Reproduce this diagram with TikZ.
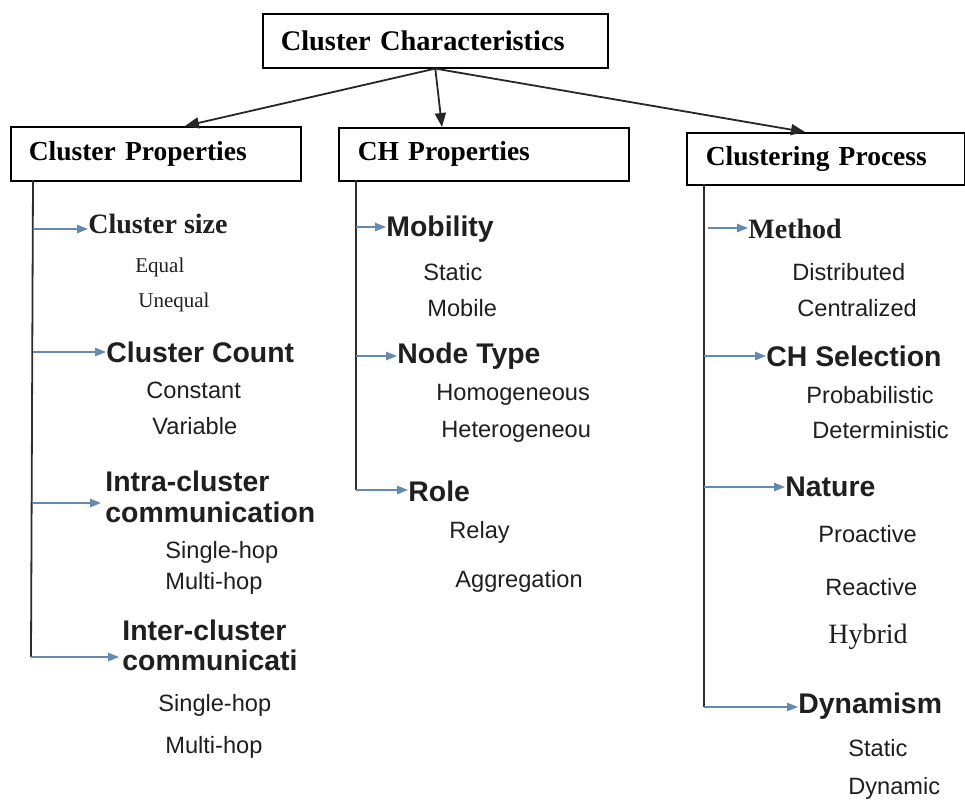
\documentclass[tikz,border=0pt]{standalone}
\usepackage{fontspec}
\setmainfont{Liberation Serif}
\setsansfont{Liberation Sans}
\usetikzlibrary{arrows.meta,calc}
\definecolor{brc}{RGB}{100,138,175}
\definecolor{barc}{RGB}{45,45,45}
\tikzset{
 box/.style={draw=black,line width=0.8pt,rectangle,anchor=north west,align=left,inner xsep=9pt,inner ysep=0pt,font=\fontsize{13.75pt}{16pt}\selectfont\bfseries},
 topar/.style={draw=black!85,line width=0.9pt,-{Triangle[length=7pt,width=5.5pt]}},
 bar/.style={draw=barc,line width=0.9pt},
 br/.style={draw=brc,line width=0.75pt,-{Triangle[length=5.5pt,width=4.2pt]}},
 txt/.style={anchor=west,inner sep=0pt,text=black!88},
 hsans/.style={txt,font=\fontsize{14.2pt}{15.5pt}\selectfont\bfseries\sffamily,align=left},
 hser/.style={txt,font=\fontsize{14pt}{16pt}\selectfont\bfseries},
 isans/.style={txt,font=\fontsize{11.8pt}{14pt}\selectfont\sffamily},
 iser/.style={txt,font=\fontsize{10.5pt}{12pt}\selectfont},
 iserbig/.style={txt,font=\fontsize{14pt}{16pt}\selectfont},
}
\begin{document}
\begin{tikzpicture}[x=0.5pt,y=-0.5pt]
\useasboundingbox (0,0) rectangle (965,800);
\fill[white] (0,0) rectangle (965,800);
% boxes
\node[box,text width=154.5pt,minimum height=27pt,font=\fontsize{14.2pt}{16pt}\selectfont\bfseries] (title) at (262,13) {Cluster Characteristics};
\node[box,text width=127pt,minimum height=27pt] (cp) at (10,126) {Cluster Properties};
\node[box,text width=126pt,inner xsep=9.5pt,minimum height=26.5pt] (chp) at (338,127) {CH Properties};
\node[box,text width=120pt,inner xsep=9.5pt,minimum height=26pt] (clp) at (686,132) {Clustering Process};
% top arrows
\draw[topar] (title.south) -- ($(cp.north west)+(175,0)$);
\draw[topar] (title.south) -- ($(chp.north west)+(104,0)$);
\draw[topar] (title.south) -- ($(clp.north west)+(119,0)$);
% bars
\coordinate (lb0) at (33,180);
\coordinate (lb1) at (33,229);
\coordinate (lb2) at (33,352);
\coordinate (lb3) at (33,503);
\coordinate (lb4) at (31,657);
\coordinate (mb0) at (356,180);
\coordinate (mb1) at (356,227);
\coordinate (mb2) at (356,356);
\coordinate (mb3) at (356,490);
\coordinate (rb0) at (704,184);
\coordinate (rb1) at (708,228);
\coordinate (rb2) at (704,356);
\coordinate (rb3) at (704,487);
\coordinate (rb4) at (704,707);
\draw[bar] (lb0) -- (lb4);
\draw[bar] (mb0) -- (mb3);
\draw[bar] (rb0) -- (rb4);
% left column
\node[hser] (cs) at (88,224) {Cluster size};
\node[iser] (eq) at (135,267) {Equal};
\node[iser] (uneq) at (138,302) {Unequal};
\node[hsans] (cc) at (106,352) {Cluster Count};
\node[isans] (const) at (146,390) {Constant};
\node[isans] (var) at (152,426) {Variable};
\node[hsans] (intra) at (105,496.5) {Intra-cluster\\communication};
\node[isans] (sh1) at (165,552) {Single-hop};
\node[isans] (mh1) at (165,583) {Multi-hop};
\node[hsans,font=\fontsize{14.2pt}{14.8pt}\selectfont\bfseries\sffamily] (inter) at (122,645.5) {Inter-cluster\\communicati};
\node[isans] (sh2) at (158,705) {Single-hop};
\node[isans] (mh2) at (165,747) {Multi-hop};
% middle column
\node[hsans] (mob) at (386,229) {Mobility};
\node[isans] (st1) at (423,272) {Static};
\node[isans] (mobl) at (427,308) {Mobile};
\node[hsans] (nt) at (397,356) {Node Type};
\node[isans] (homo) at (436,395) {Homogeneous};
\node[isans] (het) at (441,432) {Heterogeneou};
\node[hsans] (role) at (408,491) {Role};
\node[isans] (relay) at (449,532) {Relay};
\node[isans] (aggr) at (455,581) {Aggregation};
% right column
\node[hser] (meth) at (748,229) {Method};
\node[isans] (dist) at (792,272) {Distributed};
\node[isans] (cent) at (797,308) {Centralized};
\node[hsans] (chs) at (766,356) {CH Selection};
\node[isans] (prob) at (806,395) {Probabilistic};
\node[isans] (det) at (812,430) {Deterministic};
\node[hsans] (nat) at (785,487) {Nature};
\node[isans] (pro) at (818,534) {Proactive};
\node[isans] (rea) at (825,587) {Reactive};
\node[iserbig] (hyb) at (828,637) {Hybrid};
\node[hsans] (dyn) at (798,706) {Dynamism};
\node[isans] (st2) at (848,748) {Static};
\node[isans] (dynm) at (848,788) {Dynamic};
% branch arrows
\draw[br] (lb1) -- (lb1 -| cs.west);
\draw[br] (lb2) -- (lb2 -| cc.west);
\draw[br] (lb3) -- ($(lb3 -| intra.west)+(-4,0)$);
\draw[br] (lb4) -- ($(lb4 -| inter.west)+(-3,0)$);
\draw[br] (mb1) -- (mb1 -| mob.west);
\draw[br] (mb2) -- (mb2 -| nt.west);
\draw[br] (mb3) -- (mb3 -| role.west);
\draw[br] (rb1) -- (rb1 -| meth.west);
\draw[br] (rb2) -- (rb2 -| chs.west);
\draw[br] (rb3) -- (rb3 -| nat.west);
\draw[br] (rb4) -- (rb4 -| dyn.west);
\end{tikzpicture}
\end{document}
